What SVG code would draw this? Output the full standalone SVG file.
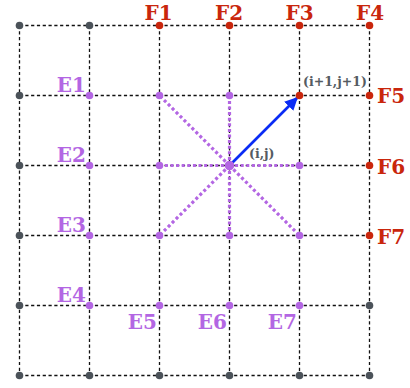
<svg xmlns="http://www.w3.org/2000/svg" width="410" height="388" viewBox="0 0 410 388">
<style>
.grid{stroke:#111;stroke-width:1.3;stroke-dasharray:3.2 2.6;fill:none}
.nb{stroke:#b366e3;stroke-width:3.2;stroke-dasharray:3 2.6;fill:none}
.g{fill:#4b5259}
.r{fill:#c9260c}
.p{fill:#b366e3}
.lr{fill:#c9260c;font-family:"DejaVu Serif",serif;font-weight:bold;font-size:20px}
.lp{fill:#b366e3;font-family:"DejaVu Serif",serif;font-weight:bold;font-size:20px}
.lg{fill:#555b62;font-family:"DejaVu Serif",serif;font-weight:bold;font-size:12.5px}
</style>
<defs>
<marker id="ah" viewBox="0 0 10 10" refX="9" refY="5" markerWidth="5" markerHeight="5" orient="auto" markerUnits="strokeWidth">
<path d="M0,0 L10,5 L0,10 z" fill="#0a2cf5"/>
</marker>
</defs>
<rect width="410" height="388" fill="#fff"/>
<g id="connectors">
<g id="grid">
<path class="grid" d="M19.5,25.5H369.5M19.5,95.5H369.5M19.5,165.5H369.5M19.5,235.5H369.5M19.5,305.5H369.5M19.5,375.5H369.5"/>
<path class="grid" d="M19.5,25.5V375.5M89.5,25.5V375.5M159.5,25.5V375.5M229.5,25.5V375.5M299.5,25.5V375.5M369.5,25.5V375.5"/>
</g>
<g id="neighbours">
<path class="nb" d="M229.5,165.5L159.5,95.5M229.5,165.5L229.5,95.5M229.5,165.5L159.5,165.5M229.5,165.5L299.5,165.5M229.5,165.5L159.5,235.5M229.5,165.5L229.5,235.5M229.5,165.5L299.5,235.5"/>
</g>
<path id="arrow" d="M229.5,165.5L297,98" stroke="#0a2cf5" stroke-width="2.6" fill="none" marker-end="url(#ah)"/>
</g>
<g id="nodes">
<g id="gray">
<circle class="g" cx="19.5" cy="25.5" r="3.8"/>
<circle class="g" cx="89.5" cy="25.5" r="3.8"/>
<circle class="g" cx="19.5" cy="95.5" r="3.8"/>
<circle class="g" cx="19.5" cy="165.5" r="3.8"/>
<circle class="g" cx="19.5" cy="235.5" r="3.8"/>
<circle class="g" cx="19.5" cy="305.5" r="3.8"/>
<circle class="g" cx="19.5" cy="375.5" r="3.8"/>
<circle class="g" cx="89.5" cy="375.5" r="3.8"/>
<circle class="g" cx="159.5" cy="375.5" r="3.8"/>
<circle class="g" cx="229.5" cy="375.5" r="3.8"/>
<circle class="g" cx="299.5" cy="375.5" r="3.8"/>
<circle class="g" cx="369.5" cy="375.5" r="3.8"/>
<circle class="g" cx="369.5" cy="305.5" r="3.8"/>
</g>
<g id="purple">
<circle class="p" cx="89.5" cy="95.5" r="3.8"/>
<circle class="p" cx="159.5" cy="95.5" r="3.8"/>
<circle class="p" cx="229.5" cy="95.5" r="3.8"/>
<circle class="p" cx="89.5" cy="165.5" r="3.8"/>
<circle class="p" cx="159.5" cy="165.5" r="3.8"/>
<circle class="p" cx="299.5" cy="165.5" r="3.8"/>
<circle class="p" cx="89.5" cy="235.5" r="3.8"/>
<circle class="p" cx="159.5" cy="235.5" r="3.8"/>
<circle class="p" cx="229.5" cy="235.5" r="3.8"/>
<circle class="p" cx="299.5" cy="235.5" r="3.8"/>
<circle class="p" cx="89.5" cy="305.5" r="3.8"/>
<circle class="p" cx="159.5" cy="305.5" r="3.8"/>
<circle class="p" cx="229.5" cy="305.5" r="3.8"/>
<circle class="p" cx="299.5" cy="305.5" r="3.8"/>
</g>
<g id="center"><circle class="p" cx="229.5" cy="165.5" r="4.8"/></g>
<g id="red">
<circle class="r" cx="159.5" cy="25.5" r="3.8"/>
<circle class="r" cx="229.5" cy="25.5" r="3.8"/>
<circle class="r" cx="299.5" cy="25.5" r="3.8"/>
<circle class="r" cx="369.5" cy="25.5" r="3.8"/>
<circle class="r" cx="299.5" cy="95.5" r="3.8"/>
<circle class="r" cx="369.5" cy="95.5" r="3.8"/>
<circle class="r" cx="369.5" cy="165.5" r="3.8"/>
<circle class="r" cx="369.5" cy="235.5" r="3.8"/>
</g>
</g>
<g id="labels">
<text class="lr" x="158.5" y="20" text-anchor="middle">F1</text>
<text class="lr" x="229" y="20" text-anchor="middle">F2</text>
<text class="lr" x="299.5" y="20" text-anchor="middle">F3</text>
<text class="lr" x="370" y="20" text-anchor="middle">F4</text>
<text class="lr" x="377" y="103">F5</text>
<text class="lr" x="377" y="173.5">F6</text>
<text class="lr" x="377" y="244">F7</text>
<text class="lp" x="86" y="91.5" text-anchor="end">E1</text>
<text class="lp" x="86" y="161.5" text-anchor="end">E2</text>
<text class="lp" x="86" y="231.5" text-anchor="end">E3</text>
<text class="lp" x="86" y="301.5" text-anchor="end">E4</text>
<text class="lp" x="157" y="329" text-anchor="end">E5</text>
<text class="lp" x="227" y="329" text-anchor="end">E6</text>
<text class="lp" x="297" y="329" text-anchor="end">E7</text>
<text class="lg" x="303" y="86">(i+1,j+1)</text>
<text class="lg" x="249" y="158">(i,j)</text>
</g>
</svg>
